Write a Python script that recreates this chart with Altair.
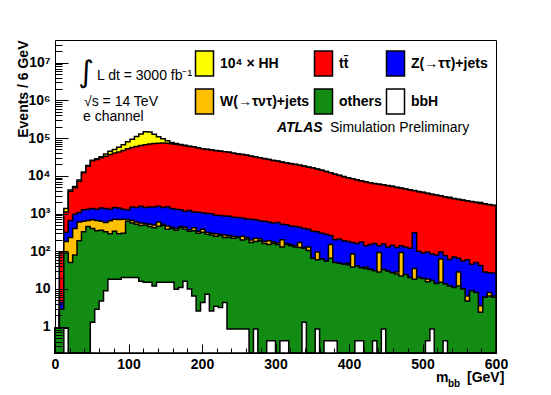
import altair as alt
import pandas as pd

# ---------------- data (events per 6 GeV bin, 0..600 GeV) ----------------
bin_width = 6
n_bins = 100

hh_x1e4 = [0, 0, 250, 300, 400, 500, 600, 800, 1000, 1300,
           2000, 5000, 8000, 10000, 14000, 20000, 28000, 38000, 50000, 65000,
           80000, 75000, 55000, 35000, 22000, 12000, 6000, 3000, 1800, 1200,
           900, 700, 600, 500, 450, 400, 350, 320, 300, 280,
           260, 240, 220, 210, 200, 190, 180, 170, 160, 150,
           140, 135, 130, 125, 120, 115, 110, 105, 100, 100,
           95, 90, 90, 85, 85, 80, 80, 75, 75, 70,
           70, 70, 65, 65, 60, 60, 60, 55, 55, 55,
           50, 50, 50, 50, 45, 45, 45, 45, 40, 120,
           40, 40, 40, 35, 35, 35, 110, 35, 30, 30]

ttbar = [0, 91, 780, 3250, 3850, 6130, 10750, 16700, 23650, 25700,
         28600, 31650, 35700, 38550, 41600, 45700, 50750, 54500, 58550, 62450,
         65550, 68500, 70520, 71450, 72550, 71480, 69650, 67700, 64750, 61850,
         58800, 56900, 53920, 50950, 49000, 47520, 45600, 44120, 42640, 41150,
         38700, 37220, 35740, 34280, 32300, 30820, 29360, 27880, 26400, 24940,
         23920, 22480, 21500, 20530, 19550, 18570, 17600, 16620, 15660, 14670,
         13700, 12720, 11740, 10800, 9990, 9310, 8620, 8130, 7640, 7125,
         6760, 6350, 6040, 5810, 5545, 5320, 5055, 4775, 4560, 4320,
         4080, 3690, 3700, 3510, 3305, 3115, 2970, 2805, 2675, 2540,
         2380, 2285, 2195, 2090, 2005, 1900, 1808, 1752, 1673, 1604]

z_jets = [0, 1.5, 140, 420, 550, 470, 630, 650, 670, 650,
          780, 770, 660, 750, 710, 600, 560, 850, 850, 990,
          910, 980, 980, 950, 930, 1050, 920, 900, 800, 720,
          830, 680, 740, 670, 680, 680, 610, 600, 590, 590,
          550, 540, 510, 490, 500, 460, 430, 440, 410, 385,
          415, 320, 340, 320, 310, 260, 275, 250, 275, 235,
          238, 225, 110, 150, 162, 145, 132, 85, 120, 139,
          102, 117, 130, 48, 122, 100, 118, 97, 48, 106,
          100, 275, 80, 71, 77, 68, 66, 33, 62, 48,
          59, 37, 45, 53, 36, 42, 38, 22, 19, 20]

w_jets = [0, 0, 90, 180, 320, 410, 290, 200, 280, 300,
          260, 250, 350, 360, 400, 400, 70, 90, 80, 80,
          40, 70, 80, 140, 40, 90, 30, 40, 30, 50,
          30, 70, 40, 60, 40, 30, 40, 20, 40, 20,
          30, 10, 50, 20, 30, 40, 20, 20, 40, 15,
          15, 70, 10, 10, 10, 45, 5, 25, 0, 35,
          0, 0, 85, 0, 0, 0, 4, 47, 0, 0,
          3, 0, 0, 64, 0, 0, 0, 3, 70, 0,
          0, 17, 0, 0, 3, 0, 0, 47, 0, 0,
          0, 16, 0, 1.7, 0, 0, 1.2, 0, 1.5, 0.5]

others = [0.9, 2.9, 89, 50, 80, 190, 330, 450, 399, 347,
          355, 321, 272, 322, 272, 280, 600, 540, 500, 464,
          485, 435, 408, 445, 465, 365, 385, 350, 409, 364,
          330, 344, 297, 316, 273, 267, 246, 257, 226, 239,
          219, 229, 199, 209, 170, 179, 190, 160, 150, 160,
          150, 130, 150, 140, 130, 125, 119, 105, 65, 59,
          62, 55, 65, 50, 48, 45, 44, 38, 40, 36,
          35, 33, 30, 28, 32, 30, 27, 25, 22, 24,
          20, 18, 20, 19, 15, 16, 14, 15, 13, 12,
          11, 12, 10, 4.8, 9, 8, 2.4, 6, 6.5, 6]

bbh = [0, 0, 0.9, 0, 0, 0, 0, 0, 1.3, 2.9,
       4.8, 8.9, 18, 18, 18, 20, 20, 20, 20, 16,
       15, 15, 12, 15, 15, 15, 15, 9.8, 11, 16,
       10, 6.5, 2.6, 4.4, 7.2, 2.6, 3.5, 3.2, 4.4, 0.86,
       0.86, 0.86, 0.86, 0.86, 0, 0.86, 0, 0, 0.42, 0.42,
       0, 0.42, 0.42, 0, 0, 0, 1.3, 0, 0, 0.86,
       0, 0.42, 0.42, 0.42, 0, 0, 0, 0, 0.42, 0.42,
       0, 0, 0.42, 0, 0.86, 0, 0, 0, 0, 0,
       0, 0, 0, 0, 0.42, 0.86, 0, 0, 0.42, 0,
       0, 0, 0, 0, 0, 0, 0, 0, 0, 0]

# legend entries in the order the legend grid fills them (column by column)
labels = ["10⁴ × HH", "W(→τντ)+jets", "tt̄", "others", "Z(→ττ)+jets", "bbH"]
colors = ["#ffff00", "#ffc000", "#ff0000", "#138c13", "#0000ff", "#ffffff"]

x_major = [0, 100, 200, 300, 400, 500, 600]
x_minor = [v for v in range(0, 601, 20) if v % 100 != 0]
y_major = [1, 10, 100, 1e3, 1e4, 1e5, 1e6, 1e7]
y_minor = [m * 10.0 ** e for e in range(-1, 8) for m in range(2, 10)
           if 0.2 < m * 10.0 ** e < 4e7]

# ---------------- stacked (cumulative) histogram table ----------------
stack_bottom_up = [("bbH", bbh), ("others", others), ("W(→τντ)+jets", w_jets),
                   ("Z(→ττ)+jets", z_jets), ("tt̄", ttbar), ("10⁴ × HH", hh_x1e4)]
rows = []
running = [0.0] * n_bins
for name, vals in stack_bottom_up:
    running = [r + v for r, v in zip(running, vals)]
    for i in range(n_bins + 1):
        v = running[min(i, n_bins - 1)]
        rows.append({"comp": name, "x": i * bin_width, "cum": max(v, 1e-3)})
df = pd.DataFrame(rows)

W, H = 441, 313
FONT = "Liberation Sans"

xscale = alt.Scale(domain=[0, 600], nice=False, zero=False)
yscale = alt.Scale(type="log", domain=[0.2, 4e7], nice=False, clamp=True)
cscale = alt.Scale(domain=labels, range=colors)

legend = alt.Legend(title=None, orient="none", legendX=136, legendY=10, columns=3,
                    symbolType="M-0.72,-1L0.72,-1L0.72,1L-0.72,1Z", symbolSize=625,
                    symbolStrokeColor="black", symbolStrokeWidth=1.5, symbolOpacity=1,
                    labelFont=FONT, labelFontSize=14, labelFontWeight="bold",
                    labelColor="black", labelOffset=2, columnPadding=0, rowPadding=7,
                    labelLimit=300, padding=0)

sup = "['','','²','³','⁴','⁵','⁶','⁷','⁸']"
ylab_expr = ("datum.value < 5 ? '1' : datum.value < 50 ? '10' : '10' + "
             + sup + "[round(log(datum.value)/LN10)]")

x_label_axis = alt.Axis(orient="bottom", values=x_major, ticks=False, domain=False,
                        grid=False, labelFont=FONT, labelFontSize=14,
                        labelFontWeight="bold", labelColor="black", labelPadding=4,
                        labelFlush=False, title=None)
x_major_axis = alt.Axis(orient="top", offset=-H, values=x_major, tickSize=9,
                        labels=False, domain=False, grid=False, tickColor="black",
                        title=None, zindex=2)
x_minor_axis = alt.Axis(orient="top", offset=-H, values=x_minor, tickSize=5,
                        labels=False, domain=False, grid=False, tickColor="black",
                        title=None, zindex=2)
y_label_axis = alt.Axis(orient="left", values=y_major, labelExpr=ylab_expr,
                        ticks=False, domain=False, grid=False, labelFont=FONT,
                        labelFontSize=14, labelFontWeight="bold", labelColor="black",
                        labelPadding=5, title="Events / 6 GeV", titleFont=FONT,
                        titleFontSize=14, titleFontWeight="bold", titleColor="black",
                        titleAngle=-90, titleAlign="right", titleBaseline="alphabetic",
                        titleX=-28, titleY=0)
y_major_axis = alt.Axis(orient="right", offset=-W, values=y_major, tickSize=13,
                        labels=False, domain=False, grid=False, tickColor="black",
                        title=None, zindex=2)
y_minor_axis = alt.Axis(orient="right", offset=-W, values=y_minor, tickSize=7,
                        labels=False, domain=False, grid=False, tickColor="black",
                        title=None, zindex=2)

draw_order = ["10⁴ × HH", "tt̄", "Z(→ττ)+jets", "W(→τντ)+jets", "others", "bbH"]
axes_for = {0: (x_label_axis, y_label_axis), 1: (x_major_axis, y_major_axis),
            2: (x_minor_axis, y_minor_axis)}

layers = []
for k, name in enumerate(draw_order):
    xa, ya = axes_for.get(k, (None, None))
    layers.append(
        alt.Chart(df).transform_filter(alt.datum.comp == name)
        .mark_area(interpolate="step-after", stroke="black", strokeWidth=1.5,
                   opacity=1, fillOpacity=1)
        .encode(x=alt.X("x:Q", scale=xscale, axis=xa),
                y=alt.Y("cum:Q", scale=yscale, axis=ya),
                y2=alt.value(H),
                color=alt.Color("comp:N", scale=cscale, legend=legend))
    )


def txt(text, x, y, size=14, weight="normal", style="normal", align="left",
        baseline="alphabetic", font=FONT):
    return alt.Chart(pd.DataFrame({"t": [text]})).mark_text(
        align=align, baseline=baseline, fontSize=size, fontWeight=weight,
        fontStyle=style, font=font, color="black").encode(
        x=alt.value(x), y=alt.value(y), text="t:N")


texts = [
    txt("∫", 31, 33, size=30, align="center", baseline="middle", font="DejaVu Sans"),
    txt("L dt = 3000 fb⁻¹", 42, 40),
    txt("√s = 14 TeV", 29, 66),
    txt("e channel", 28, 81),
    txt("ATLAS", 222, 92, weight="bold", style="italic"),
    txt("Simulation Preliminary", 275, 92),
    txt("m", 381, 342, weight="bold"),
    txt("bb", 393, 347, size=10, weight="bold"),
    txt("[GeV]", 412, 342, weight="bold"),
]

chart = alt.layer(*layers, *texts).resolve_axis(x="independent", y="independent").properties(
    width=W, height=H,
    autosize=alt.AutoSizeParams(type="none"),
    padding={"left": 47, "top": 32, "right": 40, "bottom": 38},
).configure_view(stroke="black", strokeWidth=1)

chart.save("out.html", embed_options={"renderer": "svg", "actions": False})
